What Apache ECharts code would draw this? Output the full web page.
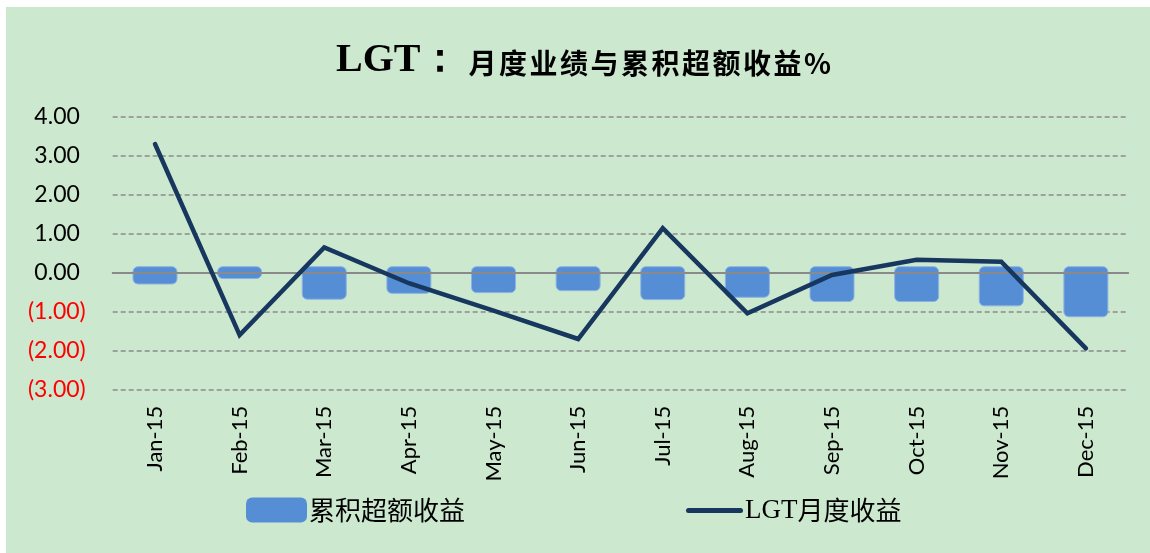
<!DOCTYPE html>
<html>
<head>
<meta charset="utf-8">
<script src="https://cdn.jsdelivr.net/npm/echarts@6/dist/echarts.min.js"></script>
<style>
  html, body { margin: 0; padding: 0; background: #fff; }
  #chart { position: absolute; left: 6px; top: 7px; width: 1144px; height: 546px; background: #cce8cf; }
</style>
</head>
<body>
<div id="chart"></div>
<script>
const months = ['Jan-15', 'Feb-15', 'Mar-15', 'Apr-15', 'May-15', 'Jun-15',
  'Jul-15', 'Aug-15', 'Sep-15', 'Oct-15', 'Nov-15', 'Dec-15']
// 累积超额收益 (bars)
const excess = [-0.29, -0.15, -0.68, -0.53, -0.51, -0.46, -0.69, -0.63, -0.74, -0.74, -0.85, -1.13]
// LGT月度收益 (line)
const monthly = [3.30, -1.60, 0.65, -0.27, -0.97, -1.70, 1.14, -1.04, -0.06, 0.33, 0.28, -1.94]
const yTicks = { min: -3, max: 4, step: 1 }

const titleCn = '月度业绩与累积超额收益%'

const chart = echarts.init(document.getElementById('chart'))

// rounded bar, like the excel shape: sticks out a few px above the zero line
function renderBar(params, api) {
  const base = api.coord([api.value(0), 0])
  const end = api.coord([api.value(0), api.value(1)])
  const w = 44
  return {
    type: 'rect',
    shape: { x: base[0] - w / 2, y: base[1] - 6, width: w, height: end[1] - base[1] + 6, r: 5 },
    style: { fill: '#558ed5', stroke: '#8db3e2', lineWidth: 1 }
  }
}

const option = {
  animation: false,
  title: {
    left: 325,
    top: 26,
    // excel title is letter-spaced, so each char gets its own bit of padding
    text: '{a|LGT：}{p| }' + titleCn.split('').map(c => '{b|' + c + '}').join(''),
    textStyle: {
      rich: {
        a: { fontFamily: 'Liberation Serif', fontWeight: 'bold', fontSize: 40, color: '#000', lineHeight: 46 },
        p: { fontSize: 10, width: 8, lineHeight: 46 },
        b: { fontFamily: 'Noto Sans CJK SC', fontWeight: 'bold', fontSize: 28, color: '#000', lineHeight: 46, padding: [5, 2.5, 0, 0] }
      }
    }
  },
  grid: {
    left: 106.7,
    top: 109.7,
    width: 1015.5,
    height: 273
  },
  legend: [
    {
      data: ['累积超额收益'],
      left: 235,
      top: 485,
      itemWidth: 61,
      itemHeight: 25,
      icon: 'roundRect',
      formatter: n => '{c|' + n + '}',
      textStyle: {
        rich: { c: { fontFamily: 'Noto Sans CJK SC', fontSize: 26, color: '#000', padding: [0, 0, 0, -3] } }
      }
    },
    {
      data: [{ name: 'LGT月度收益', icon: 'path://M2.5,0 L54.5,0 A2.5,2.5 0 0 1 54.5,5 L2.5,5 A2.5,2.5 0 0 1 2.5,0 Z' }],
      left: 675,
      top: 485,
      itemWidth: 57,
      itemHeight: 25,
      formatter: () => '{s|LGT}{c|月度收益}',
      textStyle: {
        rich: {
          s: { fontFamily: 'Liberation Serif', fontSize: 27, color: '#000', padding: [0, 0, 0, -3] },
          c: { fontFamily: 'Noto Sans CJK SC', fontSize: 26, color: '#000' }
        }
      }
    }
  ],
  xAxis: [
    {
      type: 'category',
      data: months,
      axisLine: { show: false, onZero: false },
      axisTick: { show: false },
      axisLabel: {
        rotate: 90,
        margin: 16,
        fontFamily: 'Lato',
        fontSize: 22,
        color: '#000'
      }
    },
    {
      // zero line, drawn over the bars
      type: 'category',
      data: months,
      position: 'top',
      z: 3,
      axisLine: { onZero: true, lineStyle: { color: '#8a8a8a', width: 2 } },
      axisTick: { show: false },
      axisLabel: { show: false },
      splitLine: { show: false }
    }
  ],
  yAxis: {
    type: 'value',
    min: yTicks.min,
    max: yTicks.max,
    interval: yTicks.step,
    axisLine: { show: false },
    axisTick: { show: false },
    axisLabel: {
      margin: 27,
      fontFamily: 'Lato',
      fontSize: 23,
      color: v => (v < 0 ? '#ff0000' : '#000'),
      formatter: v => (v < 0 ? '(' + Math.abs(v).toFixed(2) + ')' : v.toFixed(2) + ' ')
    },
    splitLine: {
      lineStyle: { color: '#8a8a8a', width: 1.6, type: [5, 3] }
    }
  },
  series: [
    {
      name: '累积超额收益',
      type: 'custom',
      renderItem: renderBar,
      data: excess.map((v, i) => [i, v]),
      encode: { x: 0, y: 1 },
      itemStyle: { color: '#558ed5' },
      z: 2
    },
    {
      name: 'LGT月度收益',
      type: 'line',
      data: monthly,
      symbol: 'none',
      z: 5,
      lineStyle: { color: '#17375e', width: 4.5, cap: 'round', join: 'miter' },
      itemStyle: { color: '#17375e' }
    }
  ]
}
chart.setOption(option)
</script>
</body>
</html>
